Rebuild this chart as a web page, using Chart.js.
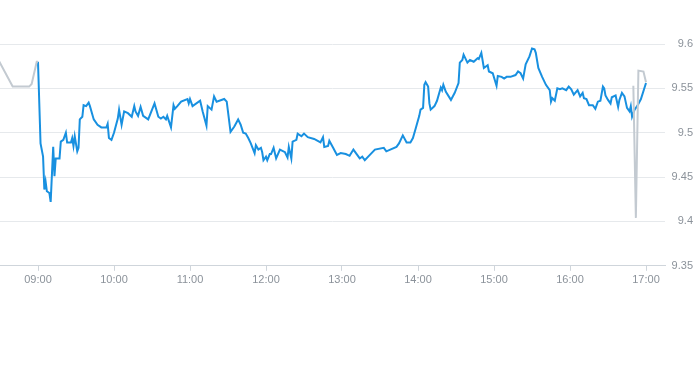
<!DOCTYPE html>
<html>
<head>
<meta charset="utf-8">
<script src="https://cdn.jsdelivr.net/npm/chart.js@4.4.1/dist/chart.umd.min.js"></script>
<style>
    body { margin: 0; background: #fff; }
    canvas { display: block; }
</style>
</head>
<body>
<canvas id="priceChart" width="693" height="365"></canvas>
<script>
// times are minutes since midnight
const hourLabels = ["09:00", "10:00", "11:00", "12:00", "13:00", "14:00", "15:00", "16:00", "17:00"];

const preMinutes = [508, 520, 533, 535, 539, 540];
const preValues = [9.584, 9.552, 9.552, 9.555, 9.580, 9.580];

const mainMinutes = [
    540, 542, 544, 545, 546, 547, 549, 550, 552, 553, 554, 557, 558, 560, 562, 563, 566, 567, 568, 569,
    571, 572, 573, 575, 576, 578, 580, 581, 584, 587, 590, 594, 595, 596, 598, 600, 603, 604, 606, 608,
    611, 614, 616, 617, 619, 621, 623, 627, 632, 635, 637, 639, 641, 642, 645, 647, 648, 650, 653, 658,
    659, 660, 662, 668, 670, 673, 674, 677, 679, 681, 687, 689, 692, 695, 698, 700, 702, 704, 706, 708,
    711, 712, 714, 716, 717, 718, 720, 721, 723, 724, 726, 728, 731, 735, 737, 738, 740, 741, 744, 745,
    748, 750, 753, 758, 763, 765, 766, 769, 770, 773, 776, 779, 783, 786, 789, 792, 794, 796, 798, 802,
    806, 813, 815, 823, 825, 828, 831, 834, 836, 838, 839, 841, 842, 844, 845, 846, 848, 849, 850, 853,
    855, 858, 859, 860, 862, 866, 869, 872, 873, 875, 876, 879, 881, 884, 887, 888, 890, 892, 895, 896,
    899, 902, 903, 906, 908, 910, 913, 917, 919, 921, 923, 925, 928, 930, 932, 933, 935, 938, 941, 944,
    945, 946, 948, 950, 952, 954, 957, 959, 961, 963, 966, 968, 970, 971, 973, 975, 978, 980, 982, 984,
    986, 987, 988, 990, 992, 993, 996, 998, 999, 1001, 1003, 1005, 1007, 1008, 1009, 1011, 1013, 1016, 1020
];
const mainValues = [
    9.580, 9.488, 9.473, 9.436, 9.445, 9.434, 9.432, 9.422, 9.484, 9.451, 9.471, 9.471, 9.490, 9.492, 9.500, 9.489, 9.489, 9.494, 9.485, 9.496,
    9.479, 9.483, 9.515, 9.518, 9.531, 9.530, 9.534, 9.530, 9.515, 9.509, 9.506, 9.506, 9.510, 9.494, 9.492, 9.500, 9.516, 9.526, 9.509, 9.524,
    9.522, 9.518, 9.530, 9.524, 9.519, 9.529, 9.519, 9.515, 9.533, 9.518, 9.516, 9.518, 9.515, 9.519, 9.506, 9.531, 9.527, 9.530, 9.535, 9.538,
    9.533, 9.538, 9.530, 9.536, 9.524, 9.508, 9.530, 9.526, 9.541, 9.535, 9.538, 9.535, 9.501, 9.507, 9.515, 9.509, 9.500, 9.499, 9.494, 9.488,
    9.477, 9.486, 9.481, 9.483, 9.478, 9.469, 9.473, 9.469, 9.476, 9.476, 9.483, 9.471, 9.481, 9.478, 9.472, 9.484, 9.471, 9.490, 9.492, 9.499,
    9.496, 9.499, 9.495, 9.493, 9.489, 9.495, 9.484, 9.485, 9.491, 9.483, 9.475, 9.477, 9.476, 9.474, 9.481, 9.475, 9.471, 9.473, 9.469, 9.475,
    9.481, 9.483, 9.479, 9.484, 9.488, 9.497, 9.489, 9.489, 9.494, 9.504, 9.509, 9.519, 9.526, 9.528, 9.554, 9.557, 9.552, 9.533, 9.526, 9.530,
    9.536, 9.551, 9.548, 9.554, 9.546, 9.537, 9.545, 9.556, 9.579, 9.582, 9.588, 9.579, 9.582, 9.580, 9.584, 9.583, 9.590, 9.573, 9.576, 9.569,
    9.567, 9.553, 9.564, 9.563, 9.561, 9.563, 9.563, 9.565, 9.569, 9.567, 9.561, 9.577, 9.586, 9.595, 9.594, 9.590, 9.573, 9.563, 9.554, 9.548,
    9.535, 9.539, 9.536, 9.550, 9.549, 9.550, 9.548, 9.552, 9.549, 9.543, 9.548, 9.541, 9.545, 9.539, 9.538, 9.531, 9.531, 9.527, 9.535, 9.536,
    9.552, 9.550, 9.542, 9.537, 9.533, 9.540, 9.542, 9.529, 9.537, 9.545, 9.541, 9.528, 9.524, 9.530, 9.518, 9.526, 9.530, 9.538, 9.556
];

const postMinutes = [1010, 1012, 1014, 1018, 1020];
const postValues = [9.553, 9.404, 9.570, 9.569, 9.557];

const toMinutes = label => {
    const [h, m] = label.split(":").map(Number);
    return h * 60 + m;
};
const hourTicks = hourLabels.map(toMinutes);
const pad = n => String(n).padStart(2, "0");
const toPoints = (xs, ys) => xs.map((x, i) => ({ x: x, y: ys[i] }));

const textColor = "#8b929a";
const tickFont = { family: "'Liberation Sans', Arial, sans-serif", size: 11 };

const ctx = document.getElementById("priceChart").getContext("2d");
new Chart(ctx, {
    type: "line",
    data: {
        datasets: [
            {
                data: toPoints(postMinutes, postValues),
                borderColor: "#c3cad1",
                borderWidth: 2,
                pointRadius: 0,
                tension: 0
            },
            {
                data: toPoints(preMinutes, preValues),
                borderColor: "#c3cad1",
                borderWidth: 2,
                pointRadius: 0,
                tension: 0
            },
            {
                data: toPoints(mainMinutes, mainValues),
                borderColor: "#1890e0",
                borderWidth: 2,
                pointRadius: 0,
                tension: 0
            }
        ]
    },
    options: {
        responsive: false,
        animation: false,
        devicePixelRatio: 1,
        layout: {
            padding: { top: 44, right: 0, bottom: 75, left: 0 }
        },
        plugins: {
            legend: { display: false },
            tooltip: { enabled: false }
        },
        scales: {
            x: {
                type: "linear",
                min: 510,
                max: 1035,
                afterBuildTicks: scale => {
                    scale.ticks = hourTicks.map(v => ({ value: v }));
                },
                ticks: {
                    autoSkip: false,
                    maxRotation: 0,
                    padding: 3,
                    color: textColor,
                    font: tickFont,
                    callback: v => pad(Math.floor(v / 60)) + ":" + pad(v % 60)
                },
                grid: {
                    drawOnChartArea: false,
                    drawTicks: true,
                    tickLength: 5,
                    color: "#cfd5db"
                },
                border: { display: true, color: "#cfd5db" }
            },
            y: {
                position: "right",
                min: 9.35,
                max: 9.6,
                afterFit: scale => {
                    scale.width = 28;
                },
                ticks: {
                    stepSize: 0.05,
                    padding: 7,
                    crossAlign: "far",
                    color: textColor,
                    font: tickFont,
                    callback: v => String(Math.round(v * 100) / 100)
                },
                grid: {
                    drawTicks: false,
                    color: "#e6e9ec"
                },
                border: { display: false }
            }
        }
    }
});
</script>
</body>
</html>
